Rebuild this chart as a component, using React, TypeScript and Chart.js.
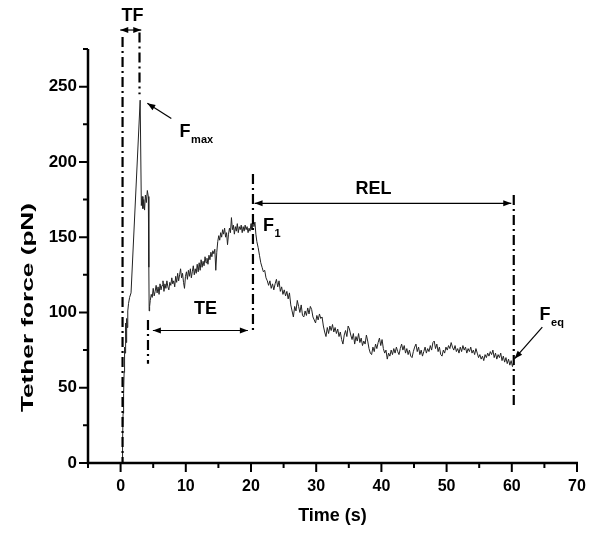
import React, { useEffect, useRef } from 'react';
import { Chart, registerables } from 'chart.js';

Chart.register(...registerables);

// ---- data: [time (s), tether force (pN)] ----
const tetherFormation: [number, number][] = [
  [0.22, 0], [0.3, 14], [0.38, 33], [0.46, 46], [0.54, 60], [0.61, 77], [0.68, 73], [0.74, 84],
  [0.8, 93], [0.87, 80], [0.93, 96], [1.0, 90], [1.1, 101], [1.22, 106], [1.38, 110], [1.6, 113],
  [3.0, 241], [3.18, 171], [3.3, 177], [3.42, 169], [3.55, 175], [3.68, 168], [3.8, 178],
  [3.95, 173], [4.1, 181], [4.25, 177], [4.33, 130], [4.38, 101], [4.45, 104], [4.55, 108],
];

const tetherExtension: [number, number][] = [
  [4.7, 112], [4.85, 110], [5.0, 116], [5.15, 111], [5.3, 114], [5.45, 118], [5.6, 113], [5.75, 117],
  [5.9, 112], [6.05, 119], [6.2, 115], [6.35, 118], [6.5, 121], [6.65, 114], [6.8, 119], [6.95, 116],
  [7.1, 121], [7.25, 117], [7.4, 115], [7.55, 120], [7.7, 118], [7.85, 123], [8.0, 119], [8.15, 121],
  [8.3, 117], [8.45, 124], [8.6, 120], [8.75, 126], [8.9, 121], [9.05, 125], [9.2, 129], [9.35, 123],
  [9.5, 126], [9.65, 120], [9.8, 116], [9.95, 124], [10.1, 127], [10.25, 122], [10.4, 128], [10.55, 124],
  [10.7, 129], [10.85, 123], [11.0, 127], [11.15, 131], [11.3, 125], [11.45, 129], [11.6, 126], [11.75, 132],
  [11.9, 127], [12.05, 133], [12.2, 128], [12.35, 135], [12.5, 130], [12.65, 134], [12.8, 131], [12.95, 137],
  [13.1, 133], [13.25, 136], [13.4, 132], [13.55, 138], [13.7, 135], [13.85, 140], [14.0, 137], [14.15, 141],
  [14.3, 139], [14.45, 142], [14.6, 128], [14.75, 140], [14.9, 147], [15.05, 151], [15.2, 148], [15.35, 153],
  [15.5, 150], [15.65, 155], [15.8, 152], [15.95, 156], [16.1, 150], [16.25, 153], [16.4, 145], [16.55, 152],
  [16.7, 156], [16.85, 153], [17.0, 163], [17.15, 155], [17.3, 158], [17.45, 152], [17.6, 157], [17.75, 154],
  [17.9, 159], [18.05, 153], [18.2, 157], [18.35, 155], [18.5, 158], [18.65, 153], [18.8, 157], [18.95, 154],
  [19.1, 158], [19.25, 155], [19.4, 157], [19.55, 153], [19.7, 156], [19.85, 154], [20.0, 159], [20.15, 155],
  [20.3, 163], [20.45, 157], [20.6, 160], [20.75, 152],
];

const relaxation: [number, number][] = [
  [20.9, 147], [21.1, 143], [21.3, 138], [21.5, 133], [21.7, 130], [21.9, 127], [22.1, 128], [22.3, 123], [22.5, 121], [22.7, 118],
  [22.9, 121], [23.1, 116], [23.3, 119], [23.5, 115], [23.7, 119], [23.9, 122], [24.1, 117], [24.3, 121], [24.5, 114], [24.7, 117],
  [24.9, 112], [25.1, 115], [25.3, 111], [25.5, 114], [25.7, 109], [25.9, 113], [26.1, 105], [26.3, 101], [26.5, 97], [26.7, 104],
  [26.9, 101], [27.1, 108], [27.3, 104], [27.5, 100], [27.7, 105], [27.9, 98], [28.1, 97], [28.3, 101], [28.5, 98], [28.7, 103],
  [28.9, 99], [29.1, 104], [29.3, 102], [29.5, 97], [29.7, 95], [29.9, 93], [30.1, 98], [30.3, 95], [30.5, 99], [30.7, 96],
  [30.9, 97], [31.1, 91], [31.3, 87], [31.5, 84], [31.7, 90], [31.9, 86], [32.1, 91], [32.3, 88], [32.5, 92], [32.7, 87],
  [32.9, 90], [33.1, 86], [33.3, 89], [33.5, 84], [33.7, 87], [33.9, 82], [34.1, 79], [34.3, 85], [34.5, 88], [34.7, 84],
  [34.9, 91], [35.1, 89], [35.3, 85], [35.5, 82], [35.7, 86], [35.9, 79], [36.1, 84], [36.3, 81], [36.5, 86], [36.7, 80],
  [36.9, 83], [37.1, 78], [37.3, 81], [37.5, 79], [37.7, 85], [37.9, 81], [38.1, 76], [38.3, 73], [38.5, 72], [38.7, 77],
  [38.9, 74], [39.1, 79], [39.3, 76], [39.5, 80], [39.7, 83], [39.9, 78], [40.1, 82], [40.3, 76], [40.5, 73], [40.7, 75],
  [40.9, 69], [41.1, 73], [41.3, 71], [41.5, 75], [41.7, 72], [41.9, 76], [42.1, 73], [42.3, 77], [42.5, 74], [42.7, 72],
  [42.9, 76], [43.1, 79], [43.3, 75], [43.5, 78], [43.7, 73], [43.9, 76], [44.1, 72], [44.3, 75], [44.5, 71], [44.7, 70],
  [44.9, 74], [45.1, 77], [45.3, 79], [45.5, 74], [45.7, 77], [45.9, 72], [46.1, 75], [46.3, 71], [46.5, 74], [46.7, 77],
  [46.9, 73], [47.1, 76], [47.3, 74], [47.5, 78], [47.7, 75], [47.9, 80], [48.1, 81], [48.3, 76], [48.5, 79], [48.7, 74],
  [48.9, 77], [49.1, 72], [49.3, 71], [49.5, 75], [49.7, 73], [49.9, 77], [50.1, 75], [50.3, 78], [50.5, 76], [50.7, 80],
  [50.9, 77], [51.1, 75], [51.3, 78], [51.5, 74], [51.7, 76], [51.9, 73], [52.1, 77], [52.3, 74], [52.5, 78], [52.7, 75],
  [52.9, 77], [53.1, 73], [53.3, 76], [53.5, 74], [53.7, 77], [53.9, 73], [54.1, 75], [54.3, 72], [54.5, 76], [54.7, 73],
  [54.9, 70], [55.1, 72], [55.3, 69], [55.5, 71], [55.7, 68], [55.9, 72], [56.1, 70], [56.3, 73], [56.5, 71], [56.7, 74],
  [56.9, 72], [57.1, 75], [57.3, 70], [57.5, 73], [57.7, 69], [57.9, 72], [58.1, 70], [58.3, 73], [58.5, 68], [58.7, 71],
  [58.9, 67], [59.1, 70], [59.3, 66], [59.5, 69], [59.7, 65], [59.9, 68], [60.1, 64], [60.3, 67],
];

const xTickLabels = [0, 10, 20, 30, 40, 50, 60, 70];
const xMinorTicks = [-5, 5, 15, 25, 35, 45, 55, 65];
const yTickLabels = [0, 50, 100, 150, 200, 250];
const yMinorTicks = [25, 75, 125, 175, 225, 275];

// phase markers (dash-dot verticals): time, top force, bottom force
const markerTime = [0.3, 2.9, 4.2, 20.3, 60.3];
const markerTop = [283, 286, 95, 192, 178];
const markerBottom = [0, 245, 66, 88, 38];

const FONT = '"Liberation Sans", Arial, Helvetica, sans-serif';

const overlayPlugin = {
  id: 'overlay',
  afterDraw(chart: any) {
    const ctx: CanvasRenderingContext2D = chart.ctx;
    const xs = chart.scales.x;
    const ys = chart.scales.y;
    const X = (v: number) => xs.getPixelForValue(v);
    const Y = (v: number) => ys.getPixelForValue(v);
    ctx.save();
    ctx.strokeStyle = '#000';
    ctx.fillStyle = '#000';

    // axes
    const left = X(-5), right = X(70), top = Y(275), bottom = Y(0);
    ctx.lineWidth = 2.5;
    ctx.setLineDash([]);
    ctx.beginPath();
    ctx.moveTo(left, top);
    ctx.lineTo(left, bottom);
    ctx.lineTo(right + 1, bottom);
    ctx.stroke();

    // ticks
    ctx.lineWidth = 2;
    ctx.beginPath();
    xTickLabels.forEach(v => { ctx.moveTo(X(v), bottom); ctx.lineTo(X(v), bottom + 9); });
    xMinorTicks.forEach(v => { ctx.moveTo(X(v), bottom); ctx.lineTo(X(v), bottom + 5); });
    yTickLabels.forEach(v => { ctx.moveTo(left, Y(v)); ctx.lineTo(left - 9, Y(v)); });
    yMinorTicks.forEach(v => { ctx.moveTo(left, Y(v)); ctx.lineTo(left - 5, Y(v)); });
    ctx.stroke();

    // dash-dot phase markers
    ctx.lineWidth = 2.2;
    ctx.setLineDash([10, 4, 2, 4]);
    markerTime.forEach((t, i) => {
      ctx.beginPath();
      ctx.moveTo(X(t), Y(markerTop[i]));
      ctx.lineTo(X(t), Y(markerBottom[i]));
      ctx.stroke();
    });
    ctx.setLineDash([]);

    const head = (x1: number, y1: number, x2: number, y2: number) => {
      const a = Math.atan2(y2 - y1, x2 - x1);
      const L = 8, W = 3;
      ctx.beginPath();
      ctx.moveTo(x2, y2);
      ctx.lineTo(x2 - L * Math.cos(a) + W * Math.sin(a), y2 - L * Math.sin(a) - W * Math.cos(a));
      ctx.lineTo(x2 - L * Math.cos(a) - W * Math.sin(a), y2 - L * Math.sin(a) + W * Math.cos(a));
      ctx.closePath();
      ctx.fill();
    };
    const arrow = (t1: number, f1: number, t2: number, f2: number, both: boolean) => {
      const x1 = X(t1), y1 = Y(f1), x2 = X(t2), y2 = Y(f2);
      ctx.lineWidth = 1.2;
      ctx.beginPath();
      ctx.moveTo(x1, y1);
      ctx.lineTo(x2, y2);
      ctx.stroke();
      head(x1, y1, x2, y2);
      if (both) head(x2, y2, x1, y1);
    };
    arrow(-0.05, 287.6, 3.17, 287.6, true);   // TF
    arrow(4.95, 88, 19.52, 88, true);         // TE
    arrow(20.55, 172.5, 59.92, 172.5, true);  // REL
    arrow(7.78, 228.9, 4.1, 238.9, false);    // Fmax
    arrow(64.68, 90.2, 60.43, 69.3, false);   // Feq

    // labels
    ctx.textBaseline = 'middle';
    ctx.textAlign = 'center';
    ctx.font = `bold 18px ${FONT}`;
    ctx.fillText('TF', X(1.81), Y(297));
    ctx.fillText('TE', X(13.04), Y(102));
    ctx.fillText('REL', X(38.77), Y(182.1));

    const sub = (t: number, f: number, s: string) => {
      ctx.textAlign = 'left';
      ctx.textBaseline = 'alphabetic';
      ctx.font = `bold 18px ${FONT}`;
      const x = X(t), y = Y(f);
      ctx.fillText('F', x, y);
      const w = ctx.measureText('F').width;
      ctx.font = `bold 11px ${FONT}`;
      ctx.fillText(s, x + w + 0.5, y + 6);
    };
    sub(9.05, 216.3, 'max');
    sub(21.83, 154.4, '1');
    sub(64.26, 94.7, 'eq');

    // axis titles
    ctx.textAlign = 'center';
    ctx.textBaseline = 'middle';
    ctx.font = `bold 18px ${FONT}`;
    ctx.fillText('Time (s)', (left + right) / 2, 516.5);

    ctx.save();
    ctx.translate(28, 307.5);
    ctx.rotate(-Math.PI / 2);
    ctx.font = `bold 17px ${FONT}`;
    const w = ctx.measureText('Tether force (pN)').width;
    ctx.scale(209 / w, 1);
    ctx.fillText('Tether force (pN)', 0, 0);
    ctx.restore();

    ctx.restore();
  },
};

export default function App() {
  const ref = useRef<HTMLCanvasElement | null>(null);
  useEffect(() => {
    if (!ref.current) return;
    const points = [...tetherFormation, ...tetherExtension, ...relaxation].map(([x, y]) => ({ x, y }));
    const chart = new Chart(ref.current, {
      type: 'scatter',
      data: {
        datasets: [
          {
            data: points,
            showLine: true,
            borderColor: '#222',
            borderWidth: 1,
            pointRadius: 0,
            tension: 0,
          },
        ],
      },
      options: {
        animation: false,
        responsive: false,
        layout: { padding: { left: 0, right: 23, top: 49, bottom: 0 } },
        plugins: { legend: { display: false }, tooltip: { enabled: false } },
        scales: {
          x: {
            type: 'linear',
            min: -5,
            max: 70,
            afterBuildTicks: (s: any) => { s.ticks = xTickLabels.map(v => ({ value: v })); },
            afterFit: (s: any) => { s.height = 73; },
            grid: { display: false, drawTicks: false },
            border: { display: false },
            ticks: { color: '#000', padding: 14, maxRotation: 0, autoSkip: false, font: { family: FONT, size: 16, weight: 'bold' } },
          },
          y: {
            type: 'linear',
            min: 0,
            max: 275,
            afterBuildTicks: (s: any) => { s.ticks = yTickLabels.map(v => ({ value: v })); },
            afterFit: (s: any) => { s.width = 88; },
            grid: { display: false, drawTicks: false },
            border: { display: false },
            ticks: { color: '#000', padding: 11, autoSkip: false, font: { family: FONT, size: 17, weight: 'bold' } },
          },
        },
      },
      plugins: [overlayPlugin],
    } as any);
    return () => chart.destroy();
  }, []);
  return (
    <div style={{ position: 'absolute', left: 0, top: 0, width: 600, height: 536, background: '#fff' }}>
      <canvas ref={ref} width={600} height={536} />
    </div>
  );
}
